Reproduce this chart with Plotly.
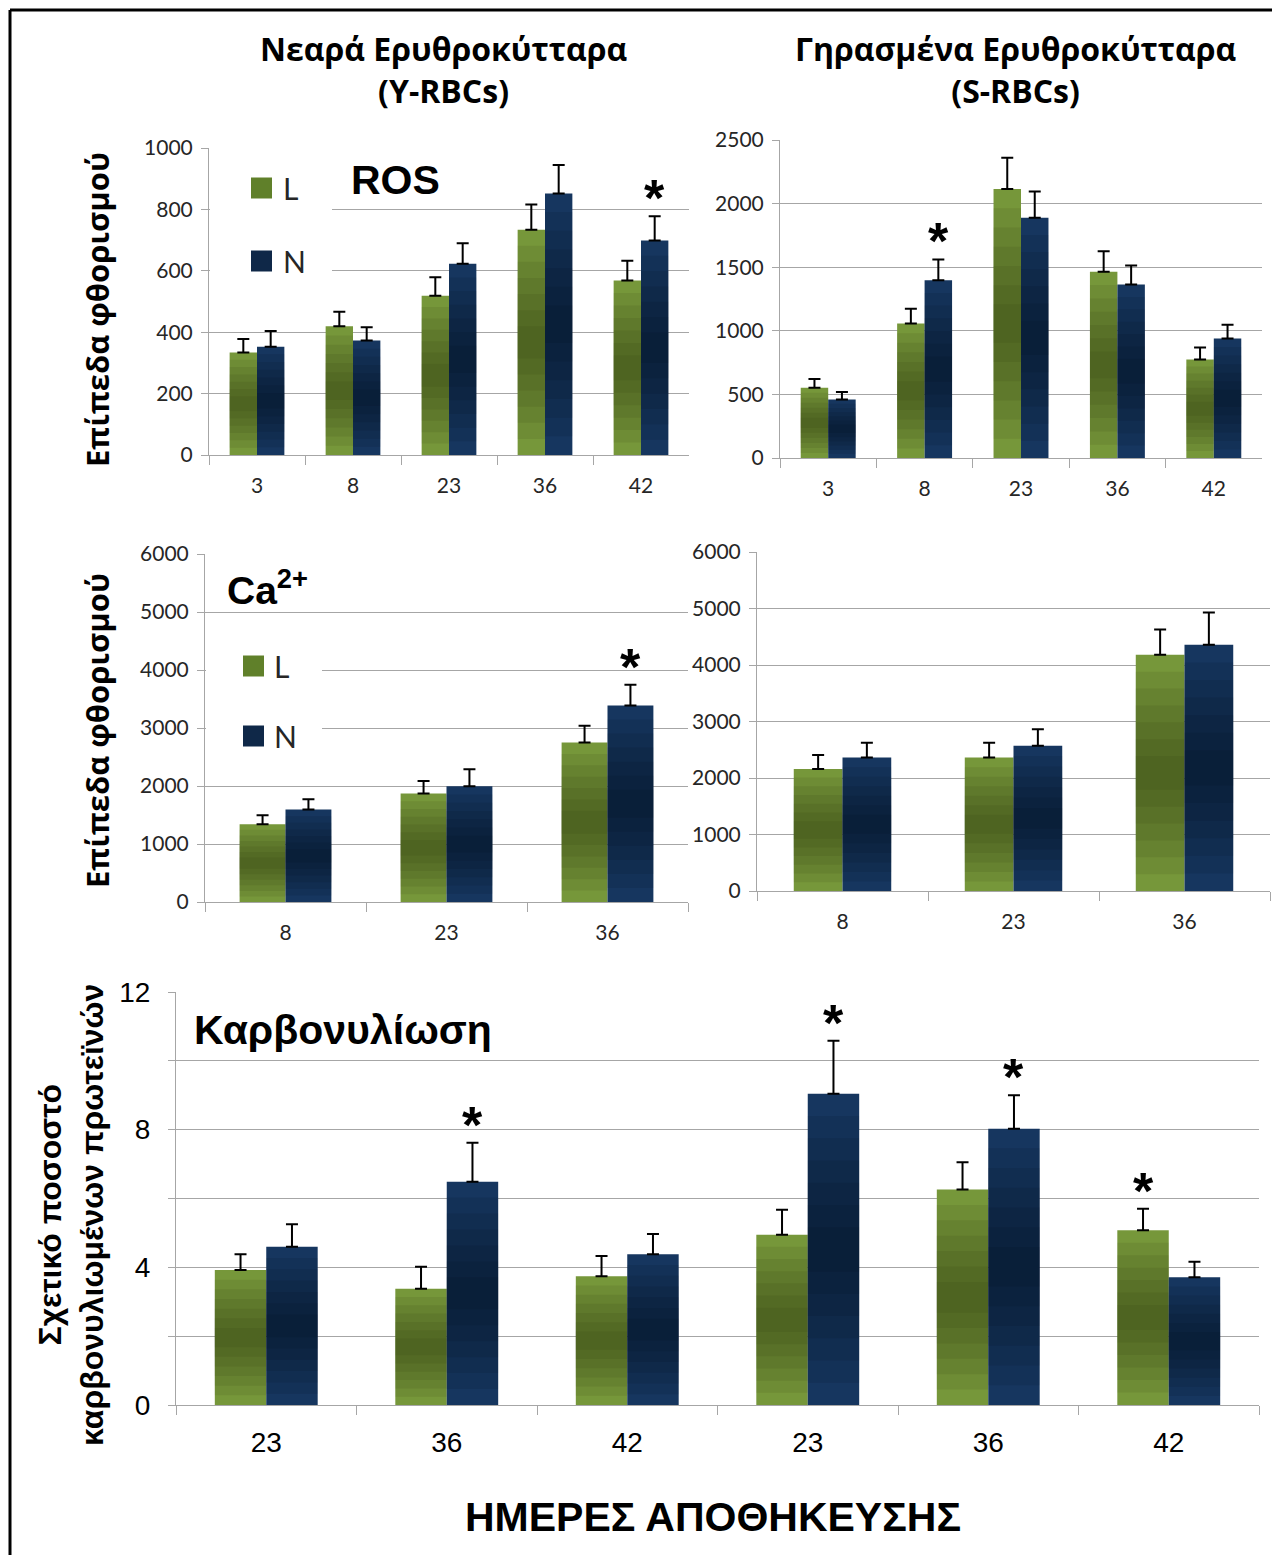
import plotly.graph_objects as go

# the page shows the figure with an 8px body margin; the figure fills the rest
OFF = 8
W, H = 1280 - OFF, 1555 - OFF
GREEN = '#76973A'        # light edge of the green bars
GREEN_DARK = '#24330A'   # used for the shaded centre
BLUE = '#16365F'
BLUE_DARK = '#020A18'
GREEN_SW = '#60802A'
BLUE_SW = '#0F2848'
GRID = '#A6A6A6'

# ---------------- data ----------------
ros_days = ['3', '8', '23', '36', '42']
ros_y_L = [334, 419, 519, 734, 568]
ros_y_L_err = [44, 48, 60, 82, 65]
ros_y_N = [353, 373, 623, 852, 699]
ros_y_N_err = [51, 43, 67, 93, 79]

ros_s_L = [553, 1057, 2114, 1464, 774]
ros_s_L_err = [69, 116, 247, 162, 94]
ros_s_N = [459, 1398, 1889, 1364, 939]
ros_s_N_err = [60, 163, 207, 150, 108]

ca_days = ['8', '23', '36']
ca_y_L = [1340, 1870, 2750]
ca_y_L_err = [156, 218, 287]
ca_y_N = [1593, 1996, 3388]
ca_y_N_err = [179, 294, 357]

ca_s_L = [2161, 2361, 4181]
ca_s_L_err = [247, 265, 447]
ca_s_N = [2361, 2573, 4357]
ca_s_N_err = [265, 289, 571]

carb_groups = ['Y-RBCs', 'Y-RBCs', 'Y-RBCs', 'S-RBCs', 'S-RBCs', 'S-RBCs']
carb_days = ['23', '36', '42', '23', '36', '42']
carb_L = [3.92, 3.38, 3.74, 4.95, 6.26, 5.08]
carb_L_err = [0.46, 0.64, 0.59, 0.72, 0.79, 0.62]
carb_N = [4.60, 6.49, 4.38, 9.04, 8.03, 3.71]
carb_N_err = [0.65, 1.13, 0.59, 1.54, 0.97, 0.45]

# significance markers: (series, index)
ros_y_stars = [('N', 4)]
ros_s_stars = [('N', 1)]
ca_y_stars = [('N', 2)]
ca_s_stars = []
carb_stars = [('N', 1), ('N', 3), ('N', 4), ('L', 5)]

# unique category keys for the carbonylation panel; shown with the day labels
carb_cats = [g + ' ' + d for g, d in zip(carb_groups, carb_days)]

BARGAP = 0.43
SHADE_STEPS = 6
SHADE_OPACITY = 0.10


def fx(px):
    return (px - OFF) / W


def fy(py):
    return 1 - (py - OFF) / H


# panel layout in page pixels: left, right, bottom(zero), top(max)
panels = [
    dict(px=(209, 689, 455, 148), ymax=1000, dtick=200, cats=ros_days, labels=ros_days,
         L=ros_y_L, Le=ros_y_L_err, N=ros_y_N, Ne=ros_y_N_err, stars=ros_y_stars, big=False),
    dict(px=(780, 1262, 458, 140), ymax=2500, dtick=500, cats=ros_days, labels=ros_days,
         L=ros_s_L, Le=ros_s_L_err, N=ros_s_N, Ne=ros_s_N_err, stars=ros_s_stars, big=False),
    dict(px=(205, 688, 902, 554), ymax=6000, dtick=1000, cats=ca_days, labels=ca_days,
         L=ca_y_L, Le=ca_y_L_err, N=ca_y_N, Ne=ca_y_N_err, stars=ca_y_stars, big=False),
    dict(px=(757, 1270, 891, 552), ymax=6000, dtick=1000, cats=ca_days, labels=ca_days,
         L=ca_s_L, Le=ca_s_L_err, N=ca_s_N, Ne=ca_s_N_err, stars=ca_s_stars, big=False),
    dict(px=(176, 1259, 1405, 992), ymax=12, dtick=4, cats=carb_cats, labels=carb_days,
         L=carb_L, Le=carb_L_err, N=carb_N, Ne=carb_N_err, stars=carb_stars, big=True),
]

fig = go.Figure()
layout = dict(template='none', width=W, height=H, margin=dict(l=0, r=0, t=0, b=0, pad=0),
              paper_bgcolor='white', plot_bgcolor='white', barmode='group',
              bargap=BARGAP, bargroupgap=0, showlegend=False)
annotations = []
shapes = []

for i, p in enumerate(panels):
    k = '' if i == 0 else str(i + 1)
    xa, ya = 'x' + k, 'y' + k
    x0, x1, yb, yt = p['px']
    n = len(p['cats'])
    for name, vals, errs, col, dark in (('L', p['L'], p['Le'], GREEN, GREEN_DARK),
                                        ('N', p['N'], p['Ne'], BLUE, BLUE_DARK)):
        fig.add_trace(go.Bar(
            x=p['cats'], y=vals, name=name, xaxis=xa, yaxis=ya, offsetgroup=name,
            marker=dict(color=col, line=dict(width=0)),
            error_y=dict(type='data', symmetric=False, array=errs,
                         arrayminus=[0] * len(errs), color='black',
                         thickness=2, width=6)))
        # shading towards the middle of each bar (gradient look of the original)
        for s in range(SHADE_STEPS):
            half = 0.5 * (1 - (s + 1) / (SHADE_STEPS + 1))
            fig.add_trace(go.Bar(
                x=p['cats'], y=[v * 2 * half for v in vals],
                base=[v * (0.5 - half) for v in vals], name=name,
                xaxis=xa, yaxis=ya, offsetgroup=name, hoverinfo='skip',
                marker=dict(color=dark, opacity=SHADE_OPACITY, line=dict(width=0))))
    if p['big']:
        tfont = dict(family='Liberation Sans, Arial, sans-serif', size=28, color='black')
        yextra = dict(minor=dict(dtick=2, showgrid=True, gridcolor=GRID, gridwidth=1,
                                 ticks='outside', ticklen=7, tickcolor=GRID, tickwidth=1))
        xstand, ystand = 12, 12
    else:
        tfont = dict(family='Lato, sans-serif', size=21, color='#262626')
        yextra = {}
        xstand, ystand = 12, 4
    layout['xaxis' + k] = dict(
        domain=[fx(x0), fx(x1)], anchor=ya, type='category',
        categoryorder='array', categoryarray=p['cats'], range=[-0.5, n - 0.5],
        tickmode='array', tickvals=p['cats'], ticktext=p['labels'], tickangle=0,
        tickson='boundaries', ticks='outside', ticklen=9, tickcolor=GRID, tickwidth=1,
        showline=True, linecolor=GRID, linewidth=1, showgrid=False, zeroline=False,
        tickfont=tfont, ticklabelstandoff=xstand, automargin=False)
    layout['yaxis' + k] = dict(
        domain=[fy(yb), fy(yt)], anchor=xa, range=[0, p['ymax']], dtick=p['dtick'],
        ticks='outside', ticklen=7, tickcolor=GRID, tickwidth=1,
        showline=True, linecolor=GRID, linewidth=1, showgrid=True, gridcolor=GRID,
        gridwidth=1, zeroline=False, tickfont=tfont, ticklabelstandoff=ystand,
        automargin=False, **yextra)

    # significance asterisks above the error bars (x given as category index)
    catw = (x1 - x0) / n
    off = catw * (1 - BARGAP) / 4
    for s, idx in p['stars']:
        vals, errs = (p['L'], p['Le']) if s == 'L' else (p['N'], p['Ne'])
        annotations.append(dict(
            x=idx, y=vals[idx] + errs[idx], xref=xa, yref=ya,
            text='<b>*</b>', showarrow=False, xshift=off if s == 'N' else -off,
            yanchor='middle', yshift=18,
            font=dict(family='Liberation Sans, Arial, sans-serif', size=52, color='black')))


# legend boxes (white patches hiding grid, swatches and labels)
def add_legend(box, sw, lab_x, yL, yN):
    shapes.append(dict(type='rect', xref='paper', yref='paper',
                       x0=fx(box[0]), x1=fx(box[1]), y0=fy(box[3]), y1=fy(box[2]),
                       fillcolor='white', line=dict(width=0), layer='above'))
    for yc, col, txt in ((yL, GREEN_SW, 'L'), (yN, BLUE_SW, 'N')):
        shapes.append(dict(type='rect', xref='paper', yref='paper',
                           x0=fx(sw[0]), x1=fx(sw[1]),
                           y0=fy(yc + 10.5), y1=fy(yc - 10.5),
                           fillcolor=col, line=dict(width=0), layer='above'))
        annotations.append(dict(x=fx(lab_x), y=fy(yc), xref='paper', yref='paper',
                                text=txt, showarrow=False, xanchor='left', yanchor='middle',
                                font=dict(family='Lato, sans-serif', size=30, color='#262626')))


add_legend((210, 332, 160, 300), (251, 272), 281, 188, 261)
add_legend((206, 322, 640, 760), (243, 264), 272, 666, 736)

BOLD_SANS = 'Open Sans, DejaVu Sans, sans-serif'
ARIAL = 'Liberation Sans, Arial, sans-serif'


def text(x, y, s, size, family, angle=0, anchor='center'):
    annotations.append(dict(x=fx(x), y=fy(y), xref='paper', yref='paper', text=s,
                            showarrow=False, textangle=angle, xanchor=anchor, yanchor='middle',
                            font=dict(family=family, size=size, color='black', weight='bold')))


text(443, 70, 'Νεαρά Ερυθροκύτταρα<br>(Y-RBCs)', 32, BOLD_SANS)
text(1015, 70, 'Γηρασμένα Ερυθροκύτταρα<br>(S-RBCs)', 32, BOLD_SANS)
text(97, 310, 'Επίπεδα φθορισμού', 31, BOLD_SANS, angle=-90)
text(97, 731, 'Επίπεδα φθορισμού', 31, BOLD_SANS, angle=-90)
text(71, 1215, 'Σχετικό ποσοστό<br>καρβονυλιωμένων πρωτεϊνών', 32, ARIAL, angle=-90)
text(713, 1517, 'ΗΜΕΡΕΣ ΑΠΟΘΗΚΕΥΣΗΣ', 41, ARIAL)
text(349, 180, 'ROS', 41, ARIAL, anchor='left')
text(225, 587, 'Ca<sup>2+</sup>', 39, ARIAL, anchor='left')
text(192, 1030, 'Καρβονυλίωση', 41, ARIAL, anchor='left')

# frame (left and top edges)
shapes.append(dict(type='line', xref='paper', yref='paper', x0=fx(10), x1=fx(10),
                   y0=0, y1=fy(10), line=dict(color='black', width=3)))
shapes.append(dict(type='line', xref='paper', yref='paper', x0=fx(10), x1=1,
                   y0=fy(10), y1=fy(10), line=dict(color='black', width=3)))

layout['annotations'] = annotations
layout['shapes'] = shapes
fig.update_layout(**layout)
fig.write_html('out.html')
